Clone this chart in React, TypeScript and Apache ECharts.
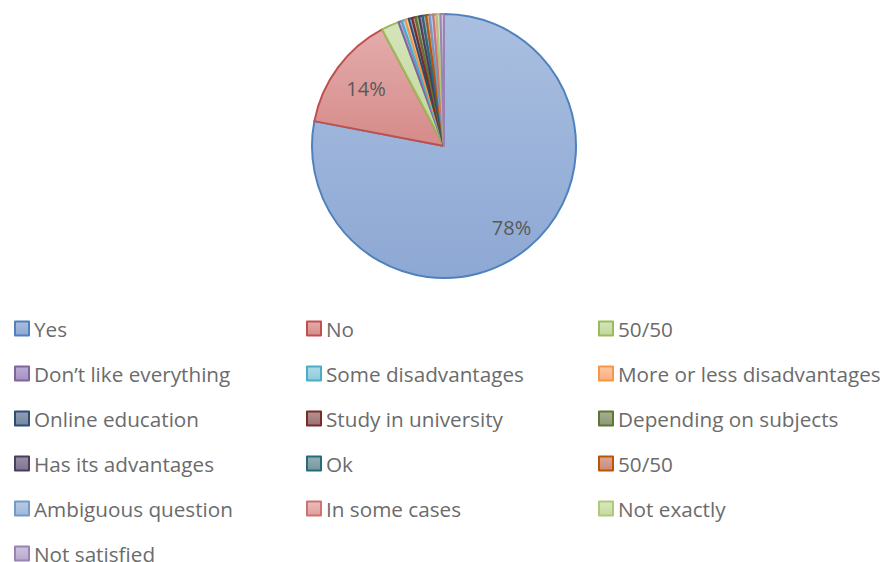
import React, { useEffect, useRef } from "react";
import * as echarts from "echarts";

const categories = [
  "Yes", "No", "50/50", "Don’t like everything", "Some disadvantages",
  "More or less disadvantages", "Online education", "Study in university",
  "Depending on subjects", "Has its advantages", "Ok", "50/50 #2",
  "Ambiguous question", "In some cases", "Not exactly", "Not satisfied",
];
const displayNames: Record<string, string> = { "50/50 #2": "50/50" };
const values = [181, 33, 5, 1, 1, 1, 1, 1, 1, 1, 1, 1, 1, 1, 1, 1];
const borderColors = [
  "#4f81bd", "#c0504d", "#9bbb59", "#8064a2", "#4bacc6", "#f79646",
  "#2c4d75", "#772c2a", "#5f7530", "#4d3b62", "#276a7c", "#b65708",
  "#729aca", "#cd7371", "#afc97a", "#9983b5",
];
const fillTop = [
  "#aabfe0", "#e3acab", "#d5e5ba", "#bcadd2", "#addbe8", "#fcc8a4",
  "#909fb6", "#b49291", "#a6b093", "#988fa4", "#92aeb6", "#dca697",
  "#b8cbe6", "#ecbdbc", "#d9e8c1", "#cfc3dc",
];
const fillBottom = [
  "#8da8d4", "#d58b89", "#c1d59c", "#a690c2", "#8ccbdc", "#f9ae7d",
  "#75879f", "#9c7170", "#8c987a", "#7f7490", "#76979f", "#cb8a78",
  "#9db7da", "#df9f9d", "#c5da9e", "#b8a8cc",
];

const legendCols = [
  [0, 3, 6, 9, 12, 15],
  [1, 4, 7, 10, 13],
  [2, 5, 8, 11, 14],
];

export default function App() {
  const ref = useRef<HTMLDivElement>(null);
  useEffect(() => {
    document.body.style.margin = "0";
    const chart = echarts.init(ref.current!, null, { renderer: "svg" });
    const font = "'Open Sans', 'Noto Sans', sans-serif";
    const mainData = categories.map((name, i) => ({
      name,
      value: values[i],
      itemStyle: {
        color: new echarts.graphic.LinearGradient(0, 0, 0, 1, [
          { offset: 0, color: fillTop[i] },
          { offset: 1, color: fillBottom[i] },
        ]),
        borderColor: borderColors[i],
        borderWidth: 2,
      },
    }));
    const overlay = (r0: number, idx: number) => ({
      type: "pie",
      center: [444, 146],
      radius: [r0, 132],
      startAngle: 90,
      silent: true,
      percentPrecision: 0,
      avoidLabelOverlap: false,
      emphasis: { disabled: true },
      labelLine: { show: false },
      itemStyle: { color: "rgba(0,0,0,0)", borderWidth: 0 },
      data: categories.map((name, i) => ({
        name,
        value: values[i],
        label: { show: i === idx },
      })),
      label: {
        position: "inside",
        formatter: (p: any) => `${Math.round(p.percent)}%`,
        fontSize: 20,
        fontFamily: font,
        color: "#595959",
      },
    });
    chart.setOption({
      animation: false,
      backgroundColor: "#ffffff",
      legend: legendCols.map((col, c) => ({
        orient: "vertical",
        left: [9, 301, 593][c],
        top: 313,
        height: 320,
        icon: "rect",
        itemWidth: 14,
        itemHeight: 14,
        itemGap: 24,
        selectedMode: false,
        data: col.map((i) => categories[i]),
        formatter: (name: string) => displayNames[name] ?? name,
        textStyle: { fontSize: 20.7, fontFamily: font, color: "#6b6b6b" },
      })),
      series: [
        {
          type: "pie",
          center: [444, 146],
          radius: [0, 132],
          startAngle: 90,
          label: { show: false },
          labelLine: { show: false },
          emphasis: { disabled: true },
          data: mainData,
        },
        overlay(74, 0),
        overlay(56, 1),
      ],
    });
    return () => chart.dispose();
  }, []);
  return <div ref={ref} style={{ width: 886, height: 562 }} />;
}
